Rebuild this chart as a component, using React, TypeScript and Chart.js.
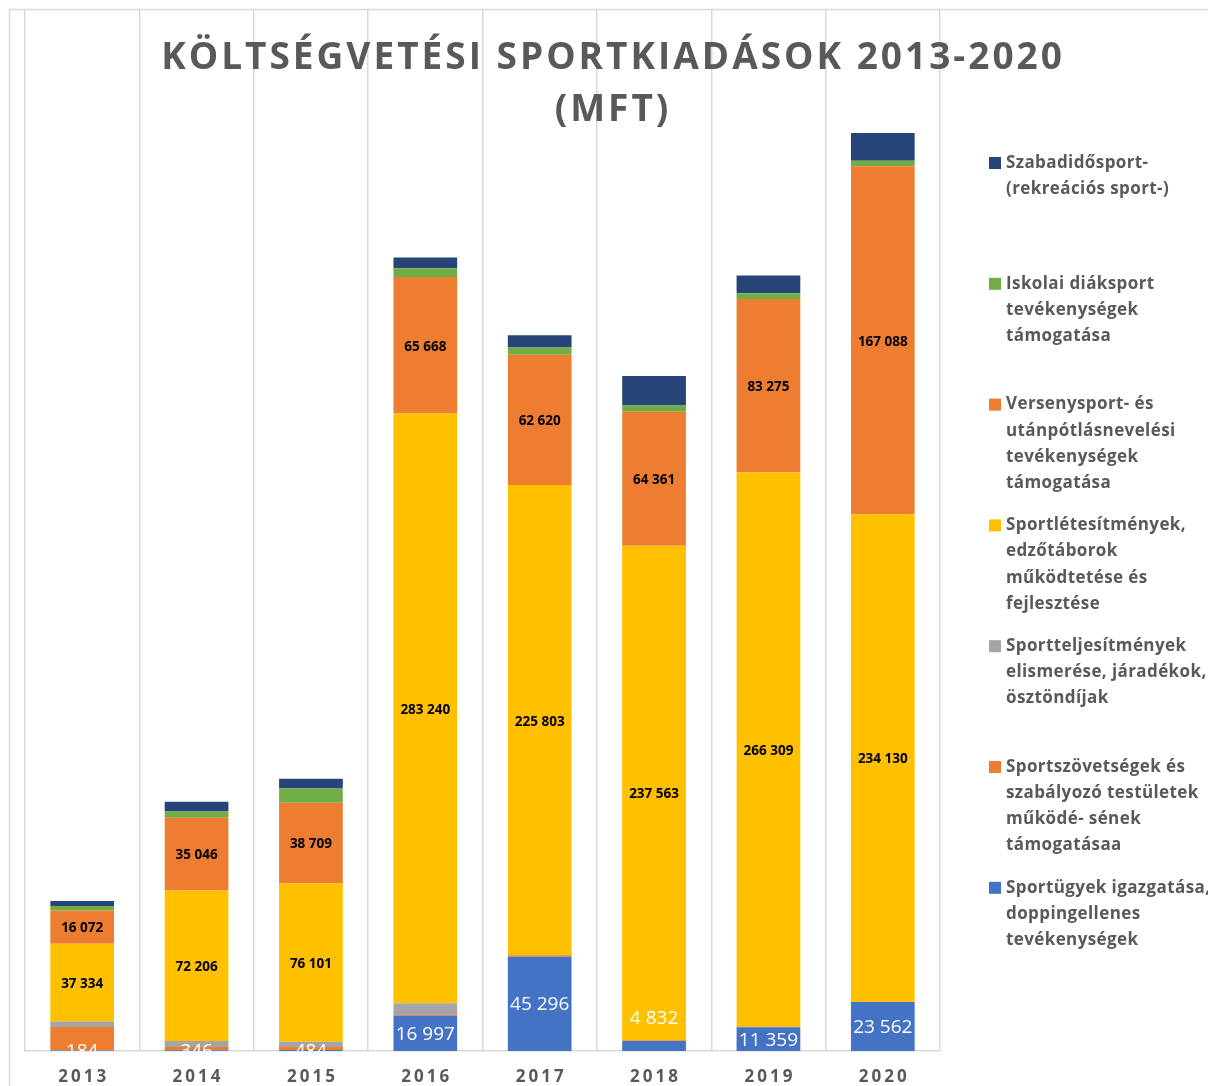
import React, { useEffect, useRef } from "react";
import { Chart, registerables } from "chart.js";

Chart.register(...registerables);

const years = ["2013", "2014", "2015", "2016", "2017", "2018", "2019", "2020"];

// stacked bottom -> top
const igazgatas = [184, 346, 484, 16997, 45296, 4832, 11359, 23562];
const szovetsegek = [11400, 1600, 1400, 600, 700, 300, 300, 150];
const teljesitmenyek = [2550, 2880, 2550, 5300, 0, 0, 0, 0];
const letesitmenyek = [37334, 72206, 76101, 283240, 225803, 237563, 266309, 234130];
const versenysport = [16072, 35046, 38709, 65668, 62620, 64361, 83275, 167088];
const iskolai = [2070, 3000, 6850, 4200, 3500, 3000, 2700, 2700];
const szabadido = [2400, 4650, 4650, 5100, 5900, 14200, 8500, 13300];

const titleLines = ["KÖLTSÉGVETÉSI SPORTKIADÁSOK 2013-2020", "(MFT)"];

const legendItems: { color: string; lines: string[] }[] = [
  { color: "#264478", lines: ["Szabadidősport-", "(rekreációs sport-)"] },
  { color: "#70AD47", lines: ["Iskolai diáksport", "tevékenységek", "támogatása"] },
  { color: "#ED7D31", lines: ["Versenysport- és", "utánpótlásnevelési", "tevékenységek", "támogatása"] },
  { color: "#FFC000", lines: ["Sportlétesítmények,", "edzőtáborok", "működtetése és", "fejlesztése"] },
  { color: "#A5A5A5", lines: ["Sportteljesítmények", "elismerése, járadékok,", "ösztöndíjak"] },
  { color: "#ED7D31", lines: ["Sportszövetségek és", "szabályozó testületek", "működé- sének", "támogatásaa"] },
  { color: "#4472C4", lines: ["Sportügyek igazgatása,", "doppingellenes", "tevékenységek"] },
];

// label nudge for the blue series (pixels), the 2018 label was moved up in the original
const blueLabelNudge = [0, 0, 0, 0, 0, -28, 0, 0];

const fmt = (v: number) => String(v).replace(/\B(?=(\d{3})+(?!\d))/g, " ");

const GRAY = "#D9D9D9";
const TEXT = "#595959";
const FONT = "'Open Sans', sans-serif";

const customPlugin = {
  id: "custom",
  afterDraw(chart: any) {
    const ctx = chart.ctx as CanvasRenderingContext2D;
    const area = chart.chartArea;
    const xs = chart.scales.x;

    // frame
    ctx.save();
    ctx.strokeStyle = GRAY;
    ctx.lineWidth = 1.5;
    ctx.beginPath();
    ctx.moveTo(9.5, chart.height);
    ctx.lineTo(9.5, 9.5);
    ctx.lineTo(chart.width, 9.5);
    ctx.stroke();
    ctx.restore();

    // data labels
    const labelSets: { idx: number; color: string; font: string; clip: boolean; dy: number }[] = [
      { idx: 3, color: "#000000", font: `bold 13.5px ${FONT}`, clip: false, dy: 1.5 },
      { idx: 4, color: "#000000", font: `bold 13.5px ${FONT}`, clip: false, dy: 1.5 },
      { idx: 0, color: "#FFFFFF", font: `19px ${FONT}`, clip: true, dy: 1 },
    ];
    labelSets.forEach((ls) => {
      const meta = chart.getDatasetMeta(ls.idx);
      const data = chart.data.datasets[ls.idx].data as number[];
      ctx.save();
      if (ls.clip) {
        ctx.beginPath();
        ctx.rect(area.left, area.top, area.right - area.left, area.bottom - area.top);
        ctx.clip();
      }
      ctx.fillStyle = ls.color;
      ctx.font = ls.font;
      ctx.textAlign = "center";
      ctx.textBaseline = "middle";
      meta.data.forEach((el: any, i: number) => {
        const cy = (el.y + el.base) / 2 + ls.dy + (ls.idx === 0 ? blueLabelNudge[i] : 0);
        ctx.fillText(fmt(data[i]), el.x, cy);
      });
      ctx.restore();
    });

    // x labels
    ctx.save();
    ctx.fillStyle = TEXT;
    ctx.font = `bold 17px ${FONT}`;
    (ctx as any).letterSpacing = "3px";
    ctx.textAlign = "center";
    ctx.textBaseline = "middle";
    years.forEach((y, i) => {
      ctx.fillText(y, xs.getPixelForValue(i) + 1.5, 1077);
    });
    ctx.restore();

    // title
    ctx.save();
    ctx.fillStyle = TEXT;
    ctx.font = `bold 37px ${FONT}`;
    (ctx as any).letterSpacing = "3px";
    ctx.textAlign = "center";
    ctx.textBaseline = "middle";
    ctx.fillText(titleLines[0], 613, 58);
    ctx.fillText(titleLines[1], 613, 110);
    ctx.restore();

    // legend
    ctx.save();
    ctx.font = `bold 17px ${FONT}`;
    (ctx as any).letterSpacing = "0.4px";
    ctx.textBaseline = "middle";
    ctx.textAlign = "left";
    legendItems.forEach((item, k) => {
      const y0 = 163 + k * 120.8;
      ctx.fillStyle = item.color;
      ctx.fillRect(989, y0 - 6, 12, 12);
      ctx.fillStyle = TEXT;
      item.lines.forEach((ln, j) => {
        ctx.fillText(ln, 1006, y0 + j * 26.2);
      });
    });
    ctx.restore();
  },
};

export default function App() {
  const ref = useRef<HTMLCanvasElement | null>(null);
  useEffect(() => {
    if (!ref.current) return;
    const mk = (label: string, data: number[], color: string) => ({
      label,
      data,
      backgroundColor: color,
      borderWidth: 0,
      barPercentage: 0.557,
      categoryPercentage: 1,
    });
    const chart = new Chart(ref.current, {
      type: "bar",
      data: {
        labels: years,
        datasets: [
          mk("Sportügyek igazgatása, doppingellenes tevékenységek", igazgatas, "#4472C4"),
          mk("Sportszövetségek és szabályozó testületek működé- sének támogatásaa", szovetsegek, "#ED7D31"),
          mk("Sportteljesítmények elismerése, járadékok, ösztöndíjak", teljesitmenyek, "#A5A5A5"),
          mk("Sportlétesítmények, edzőtáborok működtetése és fejlesztése", letesitmenyek, "#FFC000"),
          mk("Versenysport- és utánpótlásnevelési tevékenységek támogatása", versenysport, "#ED7D31"),
          mk("Iskolai diáksport tevékenységek támogatása", iskolai, "#70AD47"),
          mk("Szabadidősport- (rekreációs sport-)", szabadido, "#264478"),
        ],
      },
      options: {
        responsive: false,
        animation: false,
        devicePixelRatio: 1,
        layout: { padding: { left: 25, right: 268, top: 10, bottom: 35 } },
        plugins: {
          legend: { display: false },
          title: { display: false },
          tooltip: { enabled: false },
        },
        scales: {
          x: {
            stacked: true,
            grid: { color: GRAY, lineWidth: 1.5, drawTicks: false, offset: true },
            ticks: { display: false },
            border: { display: true, color: GRAY, width: 1.5 },
          },
          y: {
            stacked: true,
            display: false,
            min: 0,
            max: 500000,
          },
        },
      },
      plugins: [customPlugin],
    });
    return () => chart.destroy();
  }, []);
  return (
    <div style={{ position: "absolute", left: 0, top: 0, width: 1208, height: 1086, background: "#fff" }}>
      <canvas ref={ref} width={1208} height={1086} style={{ display: "block" }} />
    </div>
  );
}
